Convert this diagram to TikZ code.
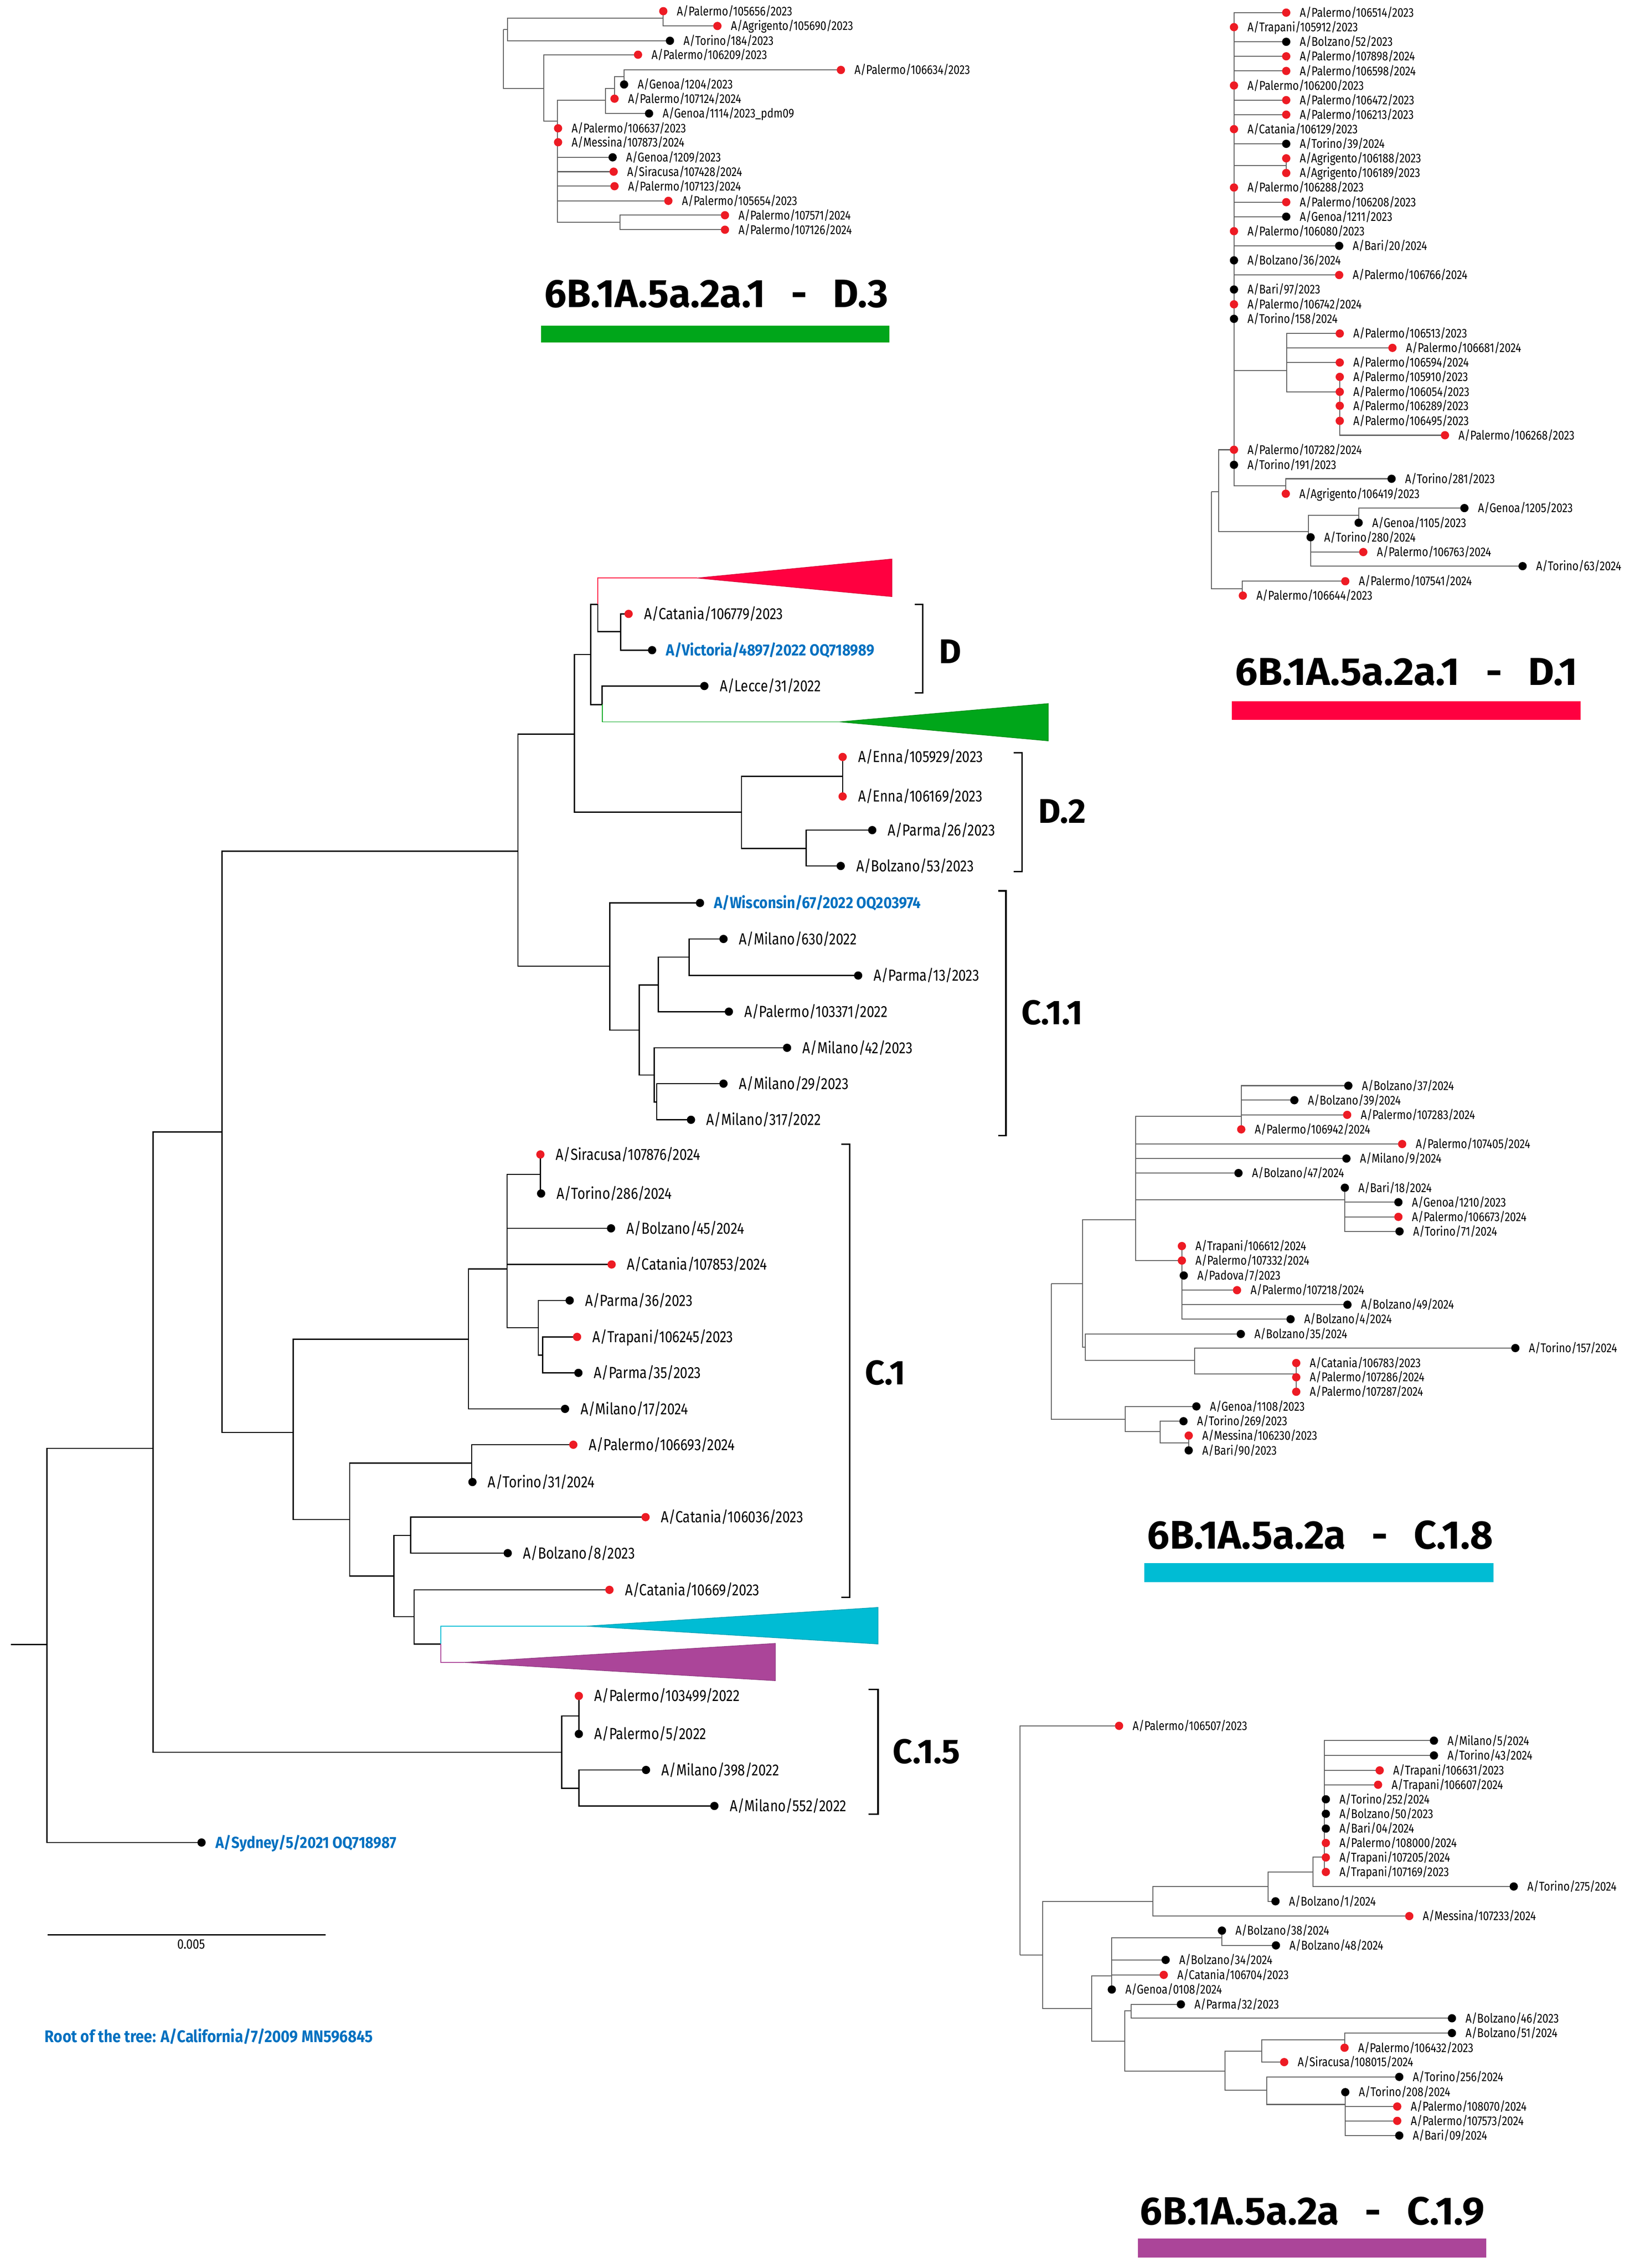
\documentclass[tikz,border=0pt]{standalone}
\usepackage{fontspec}
\setmainfont{Fira Sans}[FakeStretch=0.84]
\newfontfamily\cladefont{Fira Sans}
\newfontfamily\reffont{Fira Sans}[FakeStretch=0.89]
\usepackage{graphicx}
\usetikzlibrary{positioning}
\usetikzlibrary{backgrounds}
\definecolor{dotred}{RGB}{237,27,36}
\definecolor{cladeDone}{RGB}{255,0,64}
\definecolor{cladeDthree}{RGB}{0,166,26}
\definecolor{cladeCeight}{RGB}{0,188,212}
\definecolor{cladeCnine}{RGB}{171,69,153}
\definecolor{refblue}{RGB}{0,112,192}
\definecolor{subgray}{RGB}{95,95,95}
\tikzset{branch/.style={draw=black, line width=0.75pt, to path={|- (\tikztotarget)}},
  subbranch/.style={draw=subgray, line width=0.6pt, to path={|- (\tikztotarget)}},
  rdot/.style={circle, fill=dotred, inner sep=0pt, minimum size=1.9mm},
  kdot/.style={circle, fill=black, inner sep=0pt, minimum size=1.9mm},
  taxon/.style={anchor=west, xshift=3.5mm, inner sep=0pt, text height=7.2pt, text depth=0pt, font=\fontsize{10.5}{12}\selectfont},
  reftaxon/.style={anchor=west, xshift=3.15mm, inner sep=0pt, text height=7.2pt, text depth=0pt, text=refblue, font=\reffont\fontsize{10.5}{12}\selectfont\bfseries},
  subtaxon/.style={anchor=west, xshift=3.05mm, inner sep=0pt, text height=5.7pt, text depth=0pt, font=\fontsize{8.3}{10}\selectfont},
  cladelab/.style={anchor=base west, inner sep=0pt, font=\cladefont\fontsize{22.4}{24}\selectfont\bfseries},
  cladetitle/.style={anchor=south west, inner sep=0pt, font=\bfseries},
  bracket/.style={draw=black, line width=1pt},
  collapsed/.style={line width=0.4pt},}
\newcommand{\leaf}[5]{\node[#3] (#1) at (#2) {}; \node[#4] (#1t) at (#1.center) {#5};}

\begin{document}
\begin{tikzpicture}[x=0.033345cm, y=-0.033345cm]
  \useasboundingbox (0,0) rectangle (1130,1562.8);

  % ---- main tree ----
  \coordinate (stub) at (7.6,1133.1);
  \coordinate (r0) at (32.4,1133.1);
  \coordinate (n106) at (105.5,998);
  \coordinate (n153) at (153,780);
  \coordinate (n357) at (357,586.5);
  \coordinate (mdall) at (395.9,505.9);
  \coordinate (mda) at (407.1,451.0);
  \coordinate (mdsub) at (412.0,416.4);
  \coordinate (mdcv) at (427.7,435.3);
  \coordinate (mdlg) at (415.0,485.5);
  \coordinate (mdtwo) at (511.0,559.7);
  \coordinate (mdenna) at (580.7,535.0);
  \coordinate (mdpb) at (555.6,584.7);
  \coordinate (mca) at (420.2,665.7);
  \coordinate (mcb) at (440.6,709.8);
  \coordinate (mcc) at (453.6,678.7);
  \coordinate (mcd) at (450.8,740.8);
  \coordinate (mce) at (475.0,659.5);
  \coordinate (mcf) at (452.6,759.4);
  \coordinate (mc1) at (202,987);
  \coordinate (mc1a) at (322.9,922.8);
  \coordinate (mc1b) at (349.5,874.4);
  \coordinate (mst) at (372.4,809.2);
  \coordinate (mpar) at (371.0,914.8);
  \coordinate (mtp) at (374.0,933.8);
  \coordinate (n241) at (241,1047);
  \coordinate (mpt) at (325.1,1008.1);
  \coordinate (n271) at (271.4,1086);
  \coordinate (n283) at (283,1058);
  \coordinate (n285) at (285.3,1114.0);
  \coordinate (mcp) at (303.8,1132.8);
  \coordinate (mc15) at (387.1,1207.4);
  \coordinate (mc15a) at (398.9,1182.4);
  \coordinate (mc15b) at (398.9,1232.2);
  \coordinate (tDone) at (480.4,398.3);
  \coordinate (tDthree) at (578.7,497.4);
  \coordinate (tCeight) at (404.0,1120.5);
  \coordinate (tCnine) at (319.8,1145.5);

  \filldraw[collapsed, fill=cladeDone, draw=cladeDone!85!black] (tDone) -- (614.7,385.2) -- (614.7,411.1) -- cycle;
  \filldraw[collapsed, fill=cladeDthree, draw=cladeDthree!85!black] (tDthree) -- (722.4,484.8) -- (722.4,510.5) -- cycle;
  \filldraw[collapsed, fill=cladeCeight, draw=cladeCeight!85!black] (tCeight) -- (605.1,1107.6) -- (605.1,1132.8) -- cycle;
  \filldraw[collapsed, fill=cladeCnine, draw=cladeCnine!85!black] (tCnine) -- (534.4,1132.4) -- (534.4,1158.1) -- cycle;

  \leaf{mcat106779}{433.2,423.0}{rdot}{taxon}{A/Catania/106779/2023}
  \leaf{mvic4897}{449.4,448.0}{kdot}{reftaxon}{A/Victoria/4897/2022 OQ718989}
  \leaf{mlec31}{485.4,472.7}{kdot}{taxon}{A/Lecce/31/2022}
  \leaf{menn105929}{580.7,521.6}{rdot}{taxon}{A/Enna/105929/2023}
  \leaf{menn106169}{580.7,548.8}{rdot}{taxon}{A/Enna/106169/2023}
  \leaf{mpar26}{601.1,572.0}{kdot}{taxon}{A/Parma/26/2023}
  \leaf{mbol53}{579.4,596.7}{kdot}{taxon}{A/Bolzano/53/2023}
  \leaf{mwis67}{482.4,622.2}{kdot}{reftaxon}{A/Wisconsin/67/2022 OQ203974}
  \leaf{mmil630}{498.6,647.0}{kdot}{taxon}{A/Milano/630/2022}
  \leaf{mpar13}{591.4,672.2}{kdot}{taxon}{A/Parma/13/2023}
  \leaf{mpal103371}{502.3,697.1}{kdot}{taxon}{A/Palermo/103371/2022}
  \leaf{mmil42}{542.4,722.0}{kdot}{taxon}{A/Milano/42/2023}
  \leaf{mmil29}{498.6,746.7}{kdot}{taxon}{A/Milano/29/2023}
  \leaf{mmil317}{476.2,771.6}{kdot}{taxon}{A/Milano/317/2022}
  \leaf{msir107876}{372.4,795.5}{rdot}{taxon}{A/Siracusa/107876/2024}
  \leaf{mtor286}{372.9,822.4}{kdot}{taxon}{A/Torino/286/2024}
  \leaf{mbol45}{421.1,846.4}{kdot}{taxon}{A/Bolzano/45/2024}
  \leaf{mcat107853}{421.5,871.3}{rdot}{taxon}{A/Catania/107853/2024}
  \leaf{mpar36}{392.6,896.1}{kdot}{taxon}{A/Parma/36/2023}
  \leaf{mtra106245}{397.7,921.2}{rdot}{taxon}{A/Trapani/106245/2023}
  \leaf{mpar35}{398.6,946.0}{kdot}{taxon}{A/Parma/35/2023}
  \leaf{mmil17}{389.4,970.8}{kdot}{taxon}{A/Milano/17/2024}
  \leaf{mpal106693}{395.1,995.5}{rdot}{taxon}{A/Palermo/106693/2024}
  \leaf{mtor31}{325.6,1021.2}{kdot}{taxon}{A/Torino/31/2024}
  \leaf{mcat106036}{444.9,1045.4}{rdot}{taxon}{A/Catania/106036/2023}
  \leaf{mbol8}{349.9,1070.2}{kdot}{taxon}{A/Bolzano/8/2023}
  \leaf{mcat10669}{420.0,1095.5}{rdot}{taxon}{A/Catania/10669/2023}
  \leaf{mpal103499}{398.9,1168.6}{rdot}{taxon}{A/Palermo/103499/2022}
  \leaf{mpal5}{398.9,1194.8}{kdot}{taxon}{A/Palermo/5/2022}
  \leaf{mmil398}{445.2,1219.6}{kdot}{taxon}{A/Milano/398/2022}
  \leaf{mmil552}{492.3,1244.4}{kdot}{taxon}{A/Milano/552/2022}
  \leaf{msyd5}{138.9,1269.6}{kdot}{reftaxon}{A/Sydney/5/2021 OQ718987}

  % clade brackets
  \draw[bracket] (630.4,416.4) -- (635.9,416.4) -- (635.9,477.5) -- (630.4,477.5);
  \draw[bracket] (698.6,518.7) -- (704.3,518.7) -- (704.3,600.6) -- (698.6,600.6);
  \draw[bracket] (687.8,613.9) -- (693.3,613.9) -- (693.3,782.5) -- (687.8,782.5);
  \draw[bracket] (579.9,788.5) -- (585.6,788.5) -- (585.6,1100.7) -- (579.9,1100.7);
  \draw[bracket] (598.4,1164.1) -- (605.1,1164.1) -- (605.1,1250.1) -- (598.4,1250.1);
  \node[cladelab] (labD) at (647,457.1) {D};
  \node[cladelab] (labDtwo) at (715.5,567) {D.2};
  \node[cladelab] (labConeone) at (703.8,706.0) {C.1.1};
  \node[cladelab] (labCone) at (596,954.0) {C.1};
  \node[cladelab] (labConefive) at (615.2,1215.0) {C.1.5};

  % scale and root
  \coordinate (scaleL) at (32.8,1333.2);
  \coordinate (scaleR) at (224.3,1333.2);
  \draw[line width=0.9pt] (scaleL) -- (scaleR);
  \node[font=\fontsize{9}{10}\selectfont, inner sep=0pt] (scaletext) at (131.7,1339.6) {0.005};
  \node[anchor=west, inner sep=0pt, text height=7.6pt, text depth=0pt, text=refblue, font=\reffont\fontsize{11}{13}\selectfont\bfseries] (roottext) at (30.7,1403.2) {Root of the tree: A/California/7/2009 MN596845};

  % ---- 6B.1A.5a.2a.1 - D.3 ----
  \coordinate (d3r) at (347,20.3);
  \coordinate (d3a) at (349.8,20.3);
  \coordinate (d3n) at (457.1,12.6);
  \coordinate (d3b) at (374.9,61.0);
  \coordinate (d3c) at (384.0,83.5);
  \coordinate (d3d) at (417.4,69.1);
  \coordinate (d3e) at (423.5,60.8);
  \coordinate (d3f) at (430.1,52.8);
  \coordinate (d3g) at (427.2,153.2);
  \leaf{d3pal105656}{457.1,7.7}{rdot}{subtaxon}{A/Palermo/105656/2023}
  \leaf{d3agr105690}{494.4,17.9}{rdot}{subtaxon}{A/Agrigento/105690/2023}
  \leaf{d3tor184}{461.7,28.1}{kdot}{subtaxon}{A/Torino/184/2023}
  \leaf{d3pal106209}{439.7,37.7}{rdot}{subtaxon}{A/Palermo/106209/2023}
  \leaf{d3pal106634}{579.5,48.2}{rdot}{subtaxon}{A/Palermo/106634/2023}
  \leaf{d3gen1204}{430.1,58.2}{kdot}{subtaxon}{A/Genoa/1204/2023}
  \leaf{d3pal107124}{423.5,68.0}{rdot}{subtaxon}{A/Palermo/107124/2024}
  \leaf{d3gen1114}{447.3,78.2}{kdot}{subtaxon}{A/Genoa/1114/2023\_pdm09}
  \leaf{d3pal106637}{384.6,88.4}{rdot}{subtaxon}{A/Palermo/106637/2023}
  \leaf{d3mes107873}{384.6,98.0}{rdot}{subtaxon}{A/Messina/107873/2024}
  \leaf{d3gen1209}{422.2,108.4}{kdot}{subtaxon}{A/Genoa/1209/2023}
  \leaf{d3sir107428}{422.9,118.3}{rdot}{subtaxon}{A/Siracusa/107428/2024}
  \leaf{d3pal107123}{423.5,128.3}{rdot}{subtaxon}{A/Palermo/107123/2024}
  \leaf{d3pal105654}{460.6,138.4}{rdot}{subtaxon}{A/Palermo/105654/2023}
  \leaf{d3pal107571}{499.6,148.3}{rdot}{subtaxon}{A/Palermo/107571/2024}
  \leaf{d3pal107126}{499.6,158.3}{rdot}{subtaxon}{A/Palermo/107126/2024}
  \node[cladetitle] (titleDthree) at (375,212.5) {\resizebox{7.9cm}{0.63cm}{6B.1A.5a.2a.1\hspace{0.55em}-\hspace{0.55em}D.3}};
  \fill[cladeDthree] (373,224.3) rectangle (613,236);

  % ---- 6B.1A.5a.2a.1 - D.1 ----
  \coordinate (d1r) at (834.9,338.8);
  \coordinate (d1p) at (839.7,338.8);
  \coordinate (d1q) at (856.1,405.6);
  \coordinate (d1m) at (850.4,309.9);
  \coordinate (d1s) at (901.7,366.4);
  \coordinate (d1agr) at (886.4,114.1);
  \coordinate (d1pal) at (886.6,255.5);
  \coordinate (d1paltwo) at (923.3,270.0);
  \coordinate (d1ta) at (886.1,334.7);
  \coordinate (d1g) at (936.3,355.1);
  \coordinate (d1t) at (903.2,370.2);
  \leaf{d1pal106514}{886.4,8.7}{rdot}{subtaxon}{A/Palermo/106514/2023}
  \leaf{d1tra105912}{850.4,18.7}{rdot}{subtaxon}{A/Trapani/105912/2023}
  \leaf{d1bol52}{886.4,28.8}{kdot}{subtaxon}{A/Bolzano/52/2023}
  \leaf{d1pal107898}{886.4,38.8}{rdot}{subtaxon}{A/Palermo/107898/2024}
  \leaf{d1pal106598}{886.4,48.9}{rdot}{subtaxon}{A/Palermo/106598/2024}
  \leaf{d1pal106200}{850.4,58.9}{rdot}{subtaxon}{A/Palermo/106200/2023}
  \leaf{d1pal106472}{886.4,69.0}{rdot}{subtaxon}{A/Palermo/106472/2023}
  \leaf{d1pal106213}{886.4,79.0}{rdot}{subtaxon}{A/Palermo/106213/2023}
  \leaf{d1cat106129}{850.4,89.0}{rdot}{subtaxon}{A/Catania/106129/2023}
  \leaf{d1tor39}{886.4,99.1}{kdot}{subtaxon}{A/Torino/39/2024}
  \leaf{d1agr106188}{886.4,109.1}{rdot}{subtaxon}{A/Agrigento/106188/2023}
  \leaf{d1agr106189}{886.4,119.2}{rdot}{subtaxon}{A/Agrigento/106189/2023}
  \leaf{d1pal106288}{850.4,129.2}{rdot}{subtaxon}{A/Palermo/106288/2023}
  \leaf{d1pal106208}{886.4,139.3}{rdot}{subtaxon}{A/Palermo/106208/2023}
  \leaf{d1gen1211}{886.4,149.3}{kdot}{subtaxon}{A/Genoa/1211/2023}
  \leaf{d1pal106080}{850.4,159.3}{rdot}{subtaxon}{A/Palermo/106080/2023}
  \leaf{d1bar20}{922.9,169.4}{kdot}{subtaxon}{A/Bari/20/2024}
  \leaf{d1bol36}{850.4,179.4}{kdot}{subtaxon}{A/Bolzano/36/2024}
  \leaf{d1pal106766}{922.9,189.5}{rdot}{subtaxon}{A/Palermo/106766/2024}
  \leaf{d1bar97}{850.4,199.5}{kdot}{subtaxon}{A/Bari/97/2023}
  \leaf{d1pal106742}{850.4,209.7}{rdot}{subtaxon}{A/Palermo/106742/2024}
  \leaf{d1tor158}{850.4,219.7}{kdot}{subtaxon}{A/Torino/158/2024}
  \leaf{d1pal106513}{923.3,229.8}{rdot}{subtaxon}{A/Palermo/106513/2023}
  \leaf{d1pal106681}{959.6,239.7}{rdot}{subtaxon}{A/Palermo/106681/2024}
  \leaf{d1pal106594}{923.3,249.8}{rdot}{subtaxon}{A/Palermo/106594/2024}
  \leaf{d1pal105910}{923.3,259.7}{rdot}{subtaxon}{A/Palermo/105910/2023}
  \leaf{d1pal106054}{923.3,270.0}{rdot}{subtaxon}{A/Palermo/106054/2023}
  \leaf{d1pal106289}{923.3,279.6}{rdot}{subtaxon}{A/Palermo/106289/2023}
  \leaf{d1pal106495}{923.3,290.0}{rdot}{subtaxon}{A/Palermo/106495/2023}
  \leaf{d1pal106268}{995.8,299.9}{rdot}{subtaxon}{A/Palermo/106268/2023}
  \leaf{d1pal107282}{850.4,309.9}{rdot}{subtaxon}{A/Palermo/107282/2024}
  \leaf{d1tor191}{850.4,320.3}{kdot}{subtaxon}{A/Torino/191/2023}
  \leaf{d1tor281}{959.0,329.9}{kdot}{subtaxon}{A/Torino/281/2023}
  \leaf{d1agr106419}{886.1,340.2}{rdot}{subtaxon}{A/Agrigento/106419/2023}
  \leaf{d1gen1205}{1009.2,350.1}{kdot}{subtaxon}{A/Genoa/1205/2023}
  \leaf{d1gen1105}{936.3,360.2}{kdot}{subtaxon}{A/Genoa/1105/2023}
  \leaf{d1tor280}{903.2,370.2}{kdot}{subtaxon}{A/Torino/280/2024}
  \leaf{d1pal106763}{939.5,380.4}{rdot}{subtaxon}{A/Palermo/106763/2024}
  \leaf{d1tor63}{1049.3,390.1}{kdot}{subtaxon}{A/Torino/63/2024}
  \leaf{d1pal107541}{927.1,400.5}{rdot}{subtaxon}{A/Palermo/107541/2024}
  \leaf{d1pal106644}{856.5,410.4}{rdot}{subtaxon}{A/Palermo/106644/2023}
  \node[cladetitle] (titleDone) at (851,472.9) {\resizebox{7.87cm}{0.62cm}{6B.1A.5a.2a.1\hspace{0.55em}-\hspace{0.55em}D.1}};
  \fill[cladeDone] (848.9,483.3) rectangle (1089.4,496.0);

  % ---- 6B.1A.5a.2a - C.1.8 ----
  \coordinate (c8r) at (724.5,884.4);
  \coordinate (c8a) at (746.0,884.4);
  \coordinate (c8b) at (775.5,977.9);
  \coordinate (c8c) at (782.6,840.5);
  \coordinate (c8d) at (747.8,928.2);
  \coordinate (c8e) at (855.4,769.2);
  \coordinate (c8f) at (926.8,826.8);
  \coordinate (c8g) at (814.5,868.6);
  \coordinate (c8h) at (823.2,937.5);
  \coordinate (c8i) at (893.3,946.6);
  \coordinate (c8j) at (799.6,986.5);
  \coordinate (c8k) at (819.2,994.2);
  \leaf{c8bol37}{929.2,748.1}{kdot}{subtaxon}{A/Bolzano/37/2024}
  \leaf{c8bol39}{892.0,758.1}{kdot}{subtaxon}{A/Bolzano/39/2024}
  \leaf{c8pal107283}{928.4,768.2}{rdot}{subtaxon}{A/Palermo/107283/2024}
  \leaf{c8pal106942}{855.4,778.2}{rdot}{subtaxon}{A/Palermo/106942/2024}
  \leaf{c8pal107405}{966.3,788.3}{rdot}{subtaxon}{A/Palermo/107405/2024}
  \leaf{c8mil9}{927.9,798.3}{kdot}{subtaxon}{A/Milano/9/2024}
  \leaf{c8bol47}{853.5,808.3}{kdot}{subtaxon}{A/Bolzano/47/2024}
  \leaf{c8bar18}{926.8,818.4}{kdot}{subtaxon}{A/Bari/18/2024}
  \leaf{c8gen1210}{963.7,828.4}{kdot}{subtaxon}{A/Genoa/1210/2023}
  \leaf{c8pal106673}{963.7,838.5}{rdot}{subtaxon}{A/Palermo/106673/2024}
  \leaf{c8tor71}{964.5,848.5}{kdot}{subtaxon}{A/Torino/71/2024}
  \leaf{c8tra106612}{814.5,858.6}{rdot}{subtaxon}{A/Trapani/106612/2024}
  \leaf{c8pal107332}{814.5,868.6}{rdot}{subtaxon}{A/Palermo/107332/2024}
  \leaf{c8pad7}{815.8,878.9}{kdot}{subtaxon}{A/Padova/7/2023}
  \leaf{c8pal107218}{852.5,889.0}{rdot}{subtaxon}{A/Palermo/107218/2024}
  \leaf{c8bol49}{928.6,899.0}{kdot}{subtaxon}{A/Bolzano/49/2024}
  \leaf{c8bol4}{889.4,909.0}{kdot}{subtaxon}{A/Bolzano/4/2024}
  \leaf{c8bol35}{855.1,919.2}{kdot}{subtaxon}{A/Bolzano/35/2024}
  \leaf{c8tor157}{1044.3,928.9}{kdot}{subtaxon}{A/Torino/157/2024}
  \leaf{c8cat106783}{893.3,939.2}{rdot}{subtaxon}{A/Catania/106783/2023}
  \leaf{c8pal107286}{893.3,949.0}{rdot}{subtaxon}{A/Palermo/107286/2024}
  \leaf{c8pal107287}{893.3,959.0}{rdot}{subtaxon}{A/Palermo/107287/2024}
  \leaf{c8gen1108}{824.5,969.1}{kdot}{subtaxon}{A/Genoa/1108/2023}
  \leaf{c8tor269}{815.6,979.3}{kdot}{subtaxon}{A/Torino/269/2023}
  \leaf{c8mes106230}{819.2,989.2}{rdot}{subtaxon}{A/Messina/106230/2023}
  \leaf{c8bar90}{819.2,999.4}{kdot}{subtaxon}{A/Bari/90/2023}
  \node[cladetitle] (titleCeight) at (790.5,1068.0) {\resizebox{7.94cm}{0.65cm}{6B.1A.5a.2a\hspace{0.55em}-\hspace{0.55em}C.1.8}};
  \fill[cladeCeight] (788.6,1077.2) rectangle (1029.4,1090.2);

  % ---- 6B.1A.5a.2a - C.1.9 ----
  \coordinate (c9r) at (702.9,1347.1);
  \coordinate (c9a) at (718.6,1347.1);
  \coordinate (c9b) at (794.5,1310.1);
  \coordinate (c9c) at (752.4,1383.9);
  \coordinate (c9d) at (873.8,1299.9);
  \coordinate (c9e) at (904.8,1289.9);
  \coordinate (c9f) at (912.8,1279.6);
  \coordinate (c9g) at (766.2,1361.5);
  \coordinate (c9h) at (775.0,1406.4);
  \coordinate (c9i) at (842.1,1335.3);
  \coordinate (c9j) at (779.4,1385.5);
  \coordinate (c9k) at (844.1,1427.0);
  \coordinate (c9l) at (869.4,1413.4);
  \coordinate (c9m) at (873.0,1440.3);
  \coordinate (c9n) at (926.6,1405.7);
  \coordinate (c9o) at (927.1,1450.1);
  \leaf{c9pal106507}{771.2,1189.2}{rdot}{subtaxon}{A/Palermo/106507/2023}
  \leaf{c9mil5}{988.2,1199.4}{kdot}{subtaxon}{A/Milano/5/2024}
  \leaf{c9tor43}{988.2,1209.6}{kdot}{subtaxon}{A/Torino/43/2024}
  \leaf{c9tra106631}{950.8,1219.9}{rdot}{subtaxon}{A/Trapani/106631/2023}
  \leaf{c9tra106607}{949.7,1229.8}{rdot}{subtaxon}{A/Trapani/106607/2024}
  \leaf{c9tor252}{913.7,1239.8}{kdot}{subtaxon}{A/Torino/252/2024}
  \leaf{c9bol50}{913.7,1249.8}{kdot}{subtaxon}{A/Bolzano/50/2023}
  \leaf{c9bar04}{913.7,1260.0}{kdot}{subtaxon}{A/Bari/04/2024}
  \leaf{c9pal108000}{913.7,1269.9}{rdot}{subtaxon}{A/Palermo/108000/2024}
  \leaf{c9tra107205}{913.7,1279.9}{rdot}{subtaxon}{A/Trapani/107205/2024}
  \leaf{c9tra107169}{913.7,1289.9}{rdot}{subtaxon}{A/Trapani/107169/2023}
  \leaf{c9tor275}{1043.2,1299.9}{kdot}{subtaxon}{A/Torino/275/2024}
  \leaf{c9bol1}{879.0,1310.1}{kdot}{subtaxon}{A/Bolzano/1/2024}
  \leaf{c9mes107233}{971.2,1320.3}{rdot}{subtaxon}{A/Messina/107233/2024}
  \leaf{c9bol38}{842.1,1330.3}{kdot}{subtaxon}{A/Bolzano/38/2024}
  \leaf{c9bol48}{879.3,1340.5}{kdot}{subtaxon}{A/Bolzano/48/2024}
  \leaf{c9bol34}{803.3,1350.5}{kdot}{subtaxon}{A/Bolzano/34/2024}
  \leaf{c9cat106704}{802.0,1360.8}{rdot}{subtaxon}{A/Catania/106704/2023}
  \leaf{c9gen0108}{766.2,1370.9}{kdot}{subtaxon}{A/Genoa/0108/2024}
  \leaf{c9par32}{813.8,1381.1}{kdot}{subtaxon}{A/Parma/32/2023}
  \leaf{c9bol46}{1000.6,1390.7}{kdot}{subtaxon}{A/Bolzano/46/2023}
  \leaf{c9bol51}{1000.6,1400.9}{kdot}{subtaxon}{A/Bolzano/51/2024}
  \leaf{c9pal106432}{926.6,1411.0}{rdot}{subtaxon}{A/Palermo/106432/2023}
  \leaf{c9sir108015}{885.0,1420.9}{rdot}{subtaxon}{A/Siracusa/108015/2024}
  \leaf{c9tor256}{964.3,1431.1}{kdot}{subtaxon}{A/Torino/256/2024}
  \leaf{c9tor208}{927.1,1441.6}{kdot}{subtaxon}{A/Torino/208/2024}
  \leaf{c9pal108070}{962.9,1451.5}{rdot}{subtaxon}{A/Palermo/108070/2024}
  \leaf{c9pal107573}{962.9,1461.4}{rdot}{subtaxon}{A/Palermo/107573/2024}
  \leaf{c9bar09}{964.3,1471.5}{kdot}{subtaxon}{A/Bari/09/2024}
  \node[cladetitle] (titleCnine) at (785.5,1533.8) {\resizebox{7.92cm}{0.64cm}{6B.1A.5a.2a\hspace{0.55em}-\hspace{0.55em}C.1.9}};
  \fill[cladeCnine] (784.1,1542.6) rectangle (1024.2,1555.5);

  % ---- branches ----
  \begin{pgfonlayer}{background}
    \path[branch]
    (stub) edge (r0)
    (r0) edge (n106) edge (msyd5.center)
    (n106) edge (n153) edge (mc15)
    (n153) edge (n357) edge (mc1)
    (n357) edge (mdall) edge (mca)
    (mdall) edge (mda) edge (mdtwo)
    (mda) edge (mdsub) edge (mdlg)
    (mdsub) edge[draw=cladeDone, line width=0.5pt] (tDone) edge (mdcv)
    (mdcv) edge (mcat106779.center) edge (mvic4897.center)
    (mdlg) edge (mlec31.center) edge[draw=cladeDthree, line width=0.5pt] (tDthree)
    (mdtwo) edge (mdenna) edge (mdpb)
    (mdenna) edge (menn105929.center) edge (menn106169.center)
    (mdpb) edge (mpar26.center) edge (mbol53.center)
    (mca) edge (mwis67.center) edge (mcb)
    (mcb) edge (mcc) edge (mcd)
    (mcc) edge (mce) edge (mpal103371.center)
    (mce) edge (mmil630.center) edge (mpar13.center)
    (mcd) edge (mmil42.center) edge (mcf)
    (mcf) edge (mmil29.center) edge (mmil317.center)
    (mc1) edge (mc1a) edge (n241)
    (mc1a) edge (mc1b) edge (mmil17.center)
    (mc1b) edge (mst) edge (mbol45.center) edge (mcat107853.center) edge (mpar)
    (mst) edge (msir107876.center) edge (mtor286.center)
    (mpar) edge (mpar36.center) edge (mtp)
    (mtp) edge (mtra106245.center) edge (mpar35.center)
    (n241) edge (mpt) edge (n271)
    (mpt) edge (mpal106693.center) edge (mtor31.center)
    (n271) edge (n283) edge (n285)
    (n283) edge (mcat106036.center) edge (mbol8.center)
    (n285) edge (mcat10669.center) edge (mcp)
    (mcp) edge[draw=cladeCeight, line width=0.5pt] (tCeight) edge[draw=cladeCnine, line width=0.5pt] (tCnine)
    (mc15) edge (mc15a) edge (mc15b)
    (mc15a) edge (mpal103499.center) edge (mpal5.center)
    (mc15b) edge (mmil398.center) edge (mmil552.center);

    \path[subbranch]
    (d3r) edge (d3a) edge (d3b)
    (d3a) edge (d3n) edge (d3tor184.center)
    (d3n) edge (d3pal105656.center) edge (d3agr105690.center)
    (d3b) edge (d3pal106209.center) edge (d3c)
    (d3c) edge (d3d) edge (d3pal106637.center) edge (d3mes107873.center) edge (d3gen1209.center)
      edge (d3sir107428.center) edge (d3pal107123.center) edge (d3pal105654.center) edge (d3g)
    (d3d) edge (d3e) edge (d3gen1114.center)
    (d3e) edge (d3f) edge (d3pal107124.center)
    (d3f) edge (d3pal106634.center) edge (d3gen1204.center)
    (d3g) edge (d3pal107571.center) edge (d3pal107126.center);

    \path[subbranch]
    (d1r) edge (d1p) edge (d1q)
    (d1p) edge (d1m) edge (d1s)
    (d1m) edge (d1pal106514.center) edge (d1tra105912.center) edge (d1bol52.center) edge (d1pal107898.center)
      edge (d1pal106598.center) edge (d1pal106200.center) edge (d1pal106472.center) edge (d1pal106213.center)
      edge (d1cat106129.center) edge (d1tor39.center) edge (d1agr) edge (d1pal106288.center)
      edge (d1pal106208.center) edge (d1gen1211.center) edge (d1pal106080.center) edge (d1bar20.center)
      edge (d1bol36.center) edge (d1pal106766.center) edge (d1bar97.center) edge (d1pal106742.center)
      edge (d1tor158.center) edge (d1pal) edge (d1pal107282.center) edge (d1tor191.center) edge (d1ta)
    (d1agr) edge (d1agr106188.center) edge (d1agr106189.center)
    (d1pal) edge (d1pal106513.center) edge (d1pal106681.center) edge (d1pal106594.center) edge (d1paltwo)
    (d1paltwo) edge (d1pal105910.center) edge (d1pal106054.center) edge (d1pal106289.center)
      edge (d1pal106495.center) edge (d1pal106268.center)
    (d1ta) edge (d1tor281.center) edge (d1agr106419.center)
    (d1s) edge (d1g) edge (d1t)
    (d1g) edge (d1gen1205.center) edge (d1gen1105.center)
    (d1t) edge (d1tor280.center) edge (d1pal106763.center) edge (d1tor63.center)
    (d1q) edge (d1pal107541.center) edge (d1pal106644.center);

    \path[subbranch]
    (c8r) edge (c8a) edge (c8b)
    (c8a) edge (c8c) edge (c8d)
    (c8c) edge (c8e) edge (c8pal107405.center) edge (c8mil9.center) edge (c8bol47.center) edge (c8f) edge (c8g)
    (c8e) edge (c8bol37.center) edge (c8bol39.center) edge (c8pal107283.center) edge (c8pal106942.center)
    (c8f) edge (c8bar18.center) edge (c8gen1210.center) edge (c8pal106673.center) edge (c8tor71.center)
    (c8g) edge (c8tra106612.center) edge (c8pal107332.center) edge (c8pad7.center)
      edge (c8pal107218.center) edge (c8bol49.center) edge (c8bol4.center)
    (c8d) edge (c8bol35.center) edge (c8h)
    (c8h) edge (c8tor157.center) edge (c8i)
    (c8i) edge (c8cat106783.center) edge (c8pal107286.center) edge (c8pal107287.center)
    (c8b) edge (c8gen1108.center) edge (c8j)
    (c8j) edge (c8tor269.center) edge (c8k)
    (c8k) edge (c8mes106230.center) edge (c8bar90.center);

    \path[subbranch]
    (c9r) edge (c9pal106507.center) edge (c9a)
    (c9a) edge (c9b) edge (c9c)
    (c9b) edge (c9d) edge (c9mes107233.center)
    (c9d) edge (c9e) edge (c9bol1.center)
    (c9e) edge (c9f) edge (c9tor275.center)
    (c9f) edge (c9mil5.center) edge (c9tor43.center) edge (c9tra106631.center) edge (c9tra106607.center)
      edge (c9tor252.center) edge (c9bol50.center) edge (c9bar04.center) edge (c9pal108000.center)
      edge (c9tra107205.center) edge (c9tra107169.center)
    (c9c) edge (c9g) edge (c9h)
    (c9g) edge (c9i) edge (c9bol34.center) edge (c9cat106704.center) edge (c9gen0108.center)
    (c9i) edge (c9bol38.center) edge (c9bol48.center)
    (c9h) edge (c9j) edge (c9k)
    (c9j) edge (c9par32.center) edge (c9bol46.center)
    (c9k) edge (c9l) edge (c9m)
    (c9l) edge (c9n) edge (c9sir108015.center)
    (c9n) edge (c9bol51.center) edge (c9pal106432.center)
    (c9m) edge (c9tor256.center) edge (c9o)
    (c9o) edge (c9tor208.center) edge (c9pal108070.center) edge (c9pal107573.center) edge (c9bar09.center);
  \end{pgfonlayer}
\end{tikzpicture}
\end{document}
